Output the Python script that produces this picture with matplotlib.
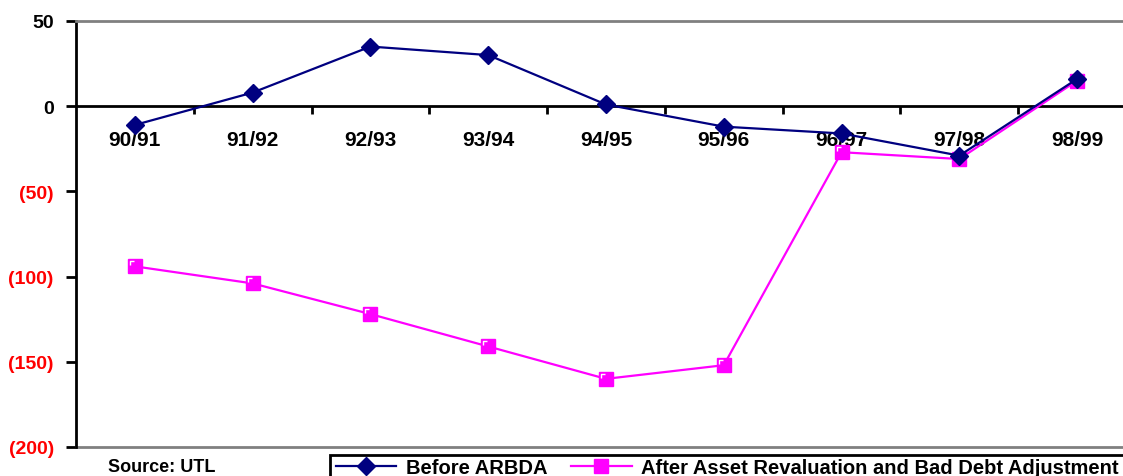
import numpy as np
import matplotlib
matplotlib.use('Agg')
import matplotlib.pyplot as plt
from matplotlib.lines import Line2D
from matplotlib.path import Path
from matplotlib.patches import Rectangle

plt.rcParams['font.family'] = ['Liberation Sans', 'DejaVu Sans']
plt.rcParams['font.weight'] = 'bold'

years = ['90/91', '91/92', '92/93', '93/94', '94/95', '95/96', '96/97', '97/98', '98/99']
before_arbda = [-11, 8, 35, 30, 1, -12, -16, -29, 16]
after_adj = [-94, -104, -122, -141, -160, -152, -27, -31, 15]
yticks = [50, 0, -50, -100, -150, -200]
ytick_labels = ['50', '0', '(50)', '(100)', '(150)', '(200)']

navy = '#000080'
magenta = '#FF00FF'

# little white corner inside the square markers (Excel look)
corner = Path([(-1, 0.15), (-1, 1), (-0.15, 1)],
              [Path.MOVETO, Path.LINETO, Path.LINETO])

fig = plt.figure(figsize=(11.23, 4.77), dpi=100)
# plot area runs past the right edge, like the original
ax = fig.add_axes([76 / 1123, 1 - 448 / 477, 1060 / 1123, 426 / 477])

x = np.arange(len(years))
ax.plot(x, before_arbda, color=navy, lw=1.6, marker='D', ms=9,
        mfc=navy, mec=navy, zorder=4)
ax.plot(x, after_adj, color=magenta, lw=1.6, marker='s', ms=10,
        mfc=magenta, mec=magenta, zorder=3)
ax.plot(x, after_adj, ls='none', marker=corner, ms=6.5, mfc='none',
        mec='white', mew=1, zorder=3.5)

ax.set_xlim(-0.5, len(years) - 0.5)
ax.set_ylim(-200, 50)

# zero line as category axis
ax.spines['bottom'].set_position(('data', 0))
ax.spines['bottom'].set_color('black')
ax.spines['bottom'].set_linewidth(2)
ax.spines['top'].set_color('#808080')
ax.spines['top'].set_linewidth(2)
ax.spines['right'].set_visible(False)
ax.spines['left'].set_linewidth(2)
ax.axhline(-200, color='#808080', lw=2, clip_on=False)

ax.set_xticks(x)
ax.set_xticklabels(years, fontsize=15, fontweight='bold')
ax.set_xticks(np.arange(len(years) - 1) + 0.5, minor=True)
ax.tick_params(axis='x', which='major', length=0, pad=17)
ax.tick_params(axis='x', which='minor', length=6, width=2, direction='out')

ax.set_yticks(yticks)
ax.set_yticklabels(ytick_labels, fontsize=14, fontweight='bold')
ax.tick_params(axis='y', length=7, width=2, direction='out', pad=9)
for lab, v in zip(ax.get_yticklabels(), yticks):
    lab.set_color('red' if v < 0 else 'black')

fig.text(108 / 1123, 1 - 468 / 477, 'Source: UTL', fontsize=13,
         fontweight='bold', va='center', ha='left')

# legend box runs off the right/bottom edge as in the original
fig.patches.append(Rectangle((330 / 1123, -0.05), 0.8, 1 - 456 / 477 + 0.05,
                             transform=fig.transFigure, fill=False,
                             edgecolor='black', lw=2))

h1 = Line2D([], [], color=navy, lw=1.6, marker='D', ms=9, mfc=navy, mec=navy)
h2 = Line2D([], [], color=magenta, lw=1.6, marker='s', ms=10, mfc=magenta, mec=magenta)
leg = fig.legend([h1, h2], ['Before ARBDA', 'After Asset Revaluation and Bad Debt Adjustment'],
                 loc='upper left', bbox_to_anchor=(332 / 1123, 1 - 455 / 477),
                 ncol=2, frameon=False, borderaxespad=0,
                 prop={'size': 14.5, 'weight': 'bold'}, handlelength=3.0,
                 handletextpad=0.45, columnspacing=1.2, borderpad=0.2)

fig.savefig('out.png', dpi=100)
